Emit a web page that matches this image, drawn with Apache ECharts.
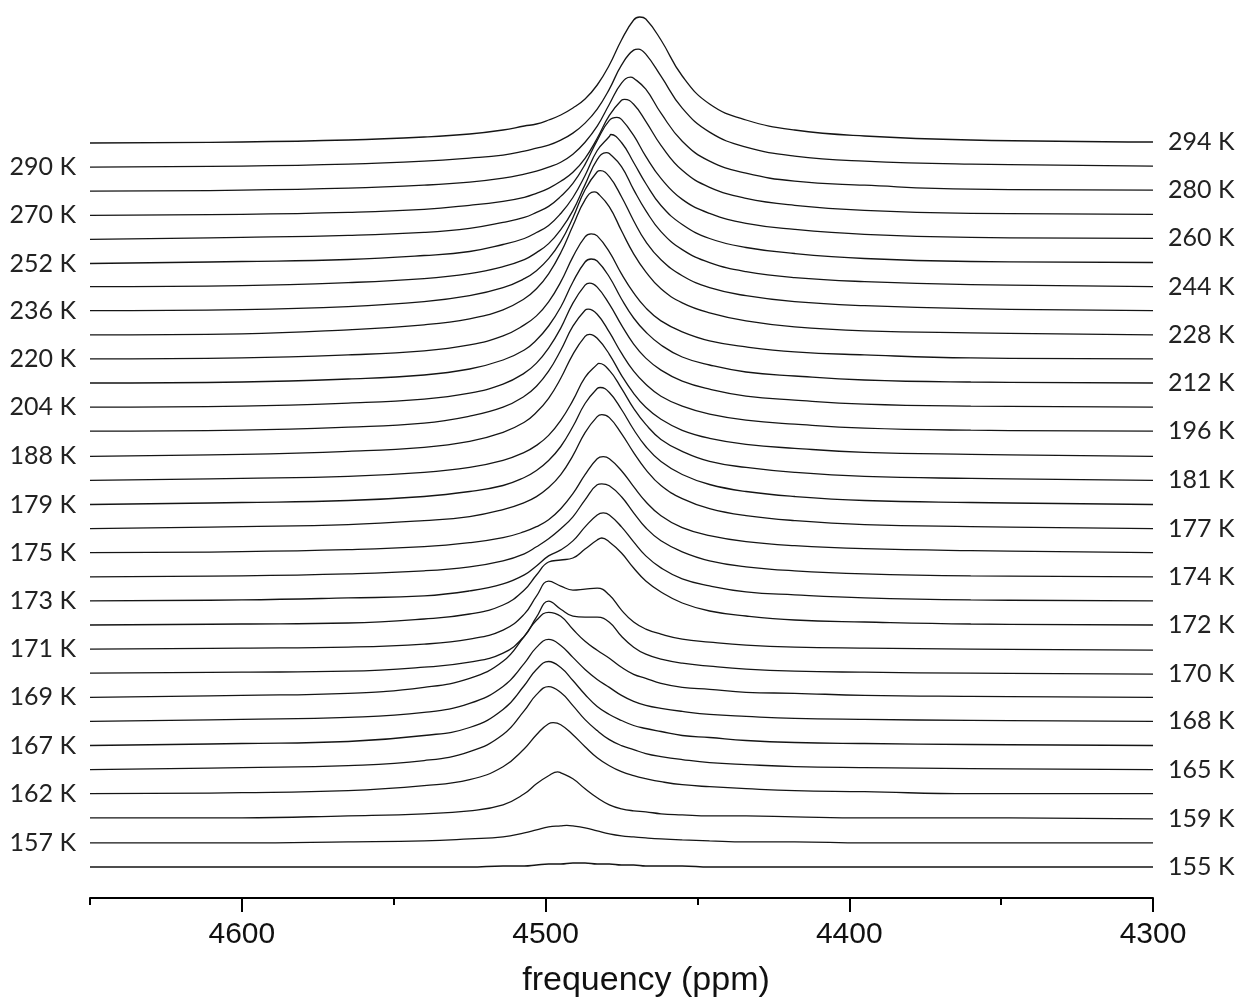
<!DOCTYPE html>
<html>
<head>
<meta charset="utf-8">
<script src="https://cdn.jsdelivr.net/npm/echarts@6/dist/echarts.min.js"></script>
<style>
  html, body { margin: 0; padding: 0; background: #ffffff; }
  #chart { width: 1240px; height: 1003px; }
</style>
</head>
<body>
<div id="chart"></div>
<script>
// Sampling frequencies (ppm) shared by every spectrum
const PPM = [4650, 4600, 4565, 4540, 4525, 4514, 4507, 4503, 4499, 4495, 4491, 4487, 4483,
             4479, 4475, 4471, 4467, 4462, 4455, 4446, 4434, 4418, 4395, 4360, 4300];

// Temperatures, bottom trace first
const TEMPS = [155, 157, 159, 162, 165, 167, 168, 169, 170, 171, 172, 173, 174, 175, 177,
               179, 181, 188, 196, 204, 212, 220, 228, 236, 244, 252, 260, 270, 280, 290, 294];

// Signal intensity (a.u.) at each PPM point
const S155 = [0,0,0,0,0,1,1,2,3,3,4,4,3,3,2,2,1,1,1,0,0,0,0,0,0];
const S157 = [0,0,1,2,4,6,10,13,16,17,17,15,12,9,7,6,5,4,3,2,1,1,0,0,0];
const S159 = [1,1,3,5,8,14,25,35,43,46,40,30,21,14,10,8,7,5,4,3,3,2,1,1,0];
const S162 = [1,2,4,9,15,28,46,60,71,70,60,48,37,29,23,19,16,13,10,8,6,4,3,1,1];
const S165 = [1,3,5,10,19,36,60,76,84,78,65,51,40,31,25,21,17,14,11,8,6,4,3,2,1];
const S167 = [1,3,5,11,19,37,61,77,85,79,66,52,40,32,26,21,18,15,11,9,6,4,3,2,1];
const S168 = [1,3,5,10,19,36,59,75,83,77,65,53,43,35,27,21,17,14,11,8,6,4,3,2,1];
const S169 = [1,3,5,11,20,37,62,78,86,82,69,57,48,40,31,24,20,15,11,9,6,5,3,2,1];
const S170 = [1,2,3,7,12,21,38,57,73,65,58,57,57,52,38,27,20,15,11,8,5,3,2,1,0];
const S171 = [1,2,3,6,11,20,36,54,69,64,60,61,62,55,40,28,21,16,11,8,5,3,2,1,0];
const S172 = [1,2,3,7,12,21,36,51,64,66,68,77,86,84,73,58,45,34,23,15,10,6,4,2,1];
const S173 = [1,2,4,6,11,18,27,36,46,52,61,75,87,87,75,60,46,34,23,16,10,7,4,2,1];
const S174 = [1,2,4,7,11,17,24,31,39,49,61,78,93,92,81,65,50,37,26,17,11,7,4,2,1];
const S175 = [1,2,4,7,11,16,22,27,34,45,60,79,95,95,83,67,52,38,26,18,12,8,5,3,1];
const S177 = [1,3,5,9,13,20,27,33,42,55,74,97,113,112,96,77,60,44,31,21,14,9,5,3,1];
const S179 = [1,3,5,9,14,20,28,35,45,59,79,102,117,113,96,76,59,44,31,21,14,9,5,3,1];
const S181 = [1,3,5,9,14,21,29,36,46,61,81,104,117,111,93,73,57,42,30,20,14,9,5,3,1];
const S188 = [1,3,6,10,16,25,35,45,59,79,103,121,119,103,82,64,50,38,27,19,13,9,5,3,1];
const S196 = [2,3,6,10,17,26,37,47,62,83,107,123,119,101,80,62,49,37,27,19,13,9,5,3,2];
const S204 = [2,3,6,10,16,25,36,46,61,81,106,124,122,105,84,65,51,39,28,20,13,9,5,3,2];
const S212 = [2,3,6,10,16,25,35,45,59,78,103,123,124,108,86,67,53,40,28,20,13,9,5,3,2];
const S220 = [2,3,6,10,16,25,36,45,59,79,104,124,125,109,87,68,53,40,29,20,14,9,6,3,2];
const S228 = [2,3,7,12,18,27,38,48,63,84,111,137,144,130,106,83,65,48,34,24,16,10,6,4,2];
const S236 = [2,3,6,11,17,25,34,42,54,71,95,123,141,136,116,92,71,53,37,25,17,11,7,4,2];
const S244 = [2,3,6,10,15,22,29,36,45,59,78,104,129,135,122,99,78,57,39,26,17,11,7,4,2];
const S252 = [1,3,5,9,13,20,26,32,39,51,67,89,114,128,122,102,81,59,40,26,17,11,6,3,2];
const S260 = [1,3,5,8,12,18,23,28,34,44,57,76,100,120,121,105,84,62,41,27,17,11,6,3,2];
const S270 = [1,2,4,7,11,15,19,23,28,35,44,58,78,101,116,112,95,71,46,29,18,11,6,3,2];
const S280 = [1,2,4,7,10,14,18,21,25,30,38,50,66,88,109,114,103,79,51,31,19,11,7,3,2];
const S290 = [1,2,4,7,10,13,17,20,23,28,35,45,59,79,103,118,114,92,60,36,21,12,7,4,2];
const S294 = [1,2,4,7,10,14,18,20,24,29,36,45,59,79,104,124,125,104,68,40,24,14,8,4,2];

const SPECTRA = [S155, S157, S159, S162, S165, S167, S168, S169, S170, S171, S172, S173,
                 S174, S175, S177, S179, S181, S188, S196, S204, S212, S220, S228, S236,
                 S244, S252, S260, S270, S280, S290, S294];

// Position (ppm) and intensity of the strongest maximum of each spectrum
const PEAK_PPM = [4491, 4493, 4496, 4497.5, 4499, 4499, 4499, 4499, 4499, 4499, 4481.5, 4481,
                  4481.5, 4481, 4481.5, 4482, 4482.5, 4485.5, 4486, 4485.5, 4485, 4485, 4484,
                  4482, 4480, 4478.5, 4476.5, 4474, 4472, 4469.5, 4469];
const PEAK_INT = [4, 17.5, 47, 72, 84, 85, 83, 86, 73, 69, 88, 89,
                  94, 97, 115, 118, 118, 123, 124, 126, 126, 127, 145,
                  142, 136, 130, 123, 117, 115, 119, 127];

// Frequency axis ticks
const X_TICKS = [4300, 4400, 4500, 4600];
const X_MINOR_TICKS = [4350, 4450, 4550, 4650];

// Vertical stacking step between consecutive spectra
const OFFSET = 24.1;

const LABEL_FONT = 'Lato, "Open Sans", sans-serif';
const AXIS_FONT = '"Liberation Sans", Arial, sans-serif';

// Grid samples plus the maximum, kept in descending ppm order
function spectrumPoints(i) {
  const pts = PPM.map((p, k) => [p, SPECTRA[i][k]]);
  const pk = [PEAK_PPM[i], PEAK_INT[i]];
  const same = pts.findIndex(q => q[0] === pk[0]);
  if (same >= 0) {
    pts[same][1] = pk[1];
  } else {
    const at = pts.findIndex(q => q[0] < pk[0]);
    pts.splice(at, 0, pk);
  }
  return pts;
}

const series = SPECTRA.map((vals, i) => {
  const onLeft = i % 2 === 1;
  const pts = spectrumPoints(i);
  const last = pts.length - 1;
  const data = pts.map((pt, k) => {
    const item = { value: [pt[0], i * OFFSET + pt[1]] };
    if (onLeft && k === 0) {
      item.label = { show: true, position: 'left', distance: 14, formatter: TEMPS[i] + ' K' };
    } else if (!onLeft && k === last) {
      item.label = { show: true, position: 'right', distance: 15, formatter: TEMPS[i] + ' K' };
    }
    return item;
  });
  return {
    name: TEMPS[i] + ' K',
    type: 'line',
    data: data,
    smooth: 0.45,
    showSymbol: true,
    symbol: 'circle',
    symbolSize: 0,
    clip: false,
    silent: true,
    animation: false,
    lineStyle: { color: '#151515', width: 1.3 },
    itemStyle: { color: '#151515' },
    label: { show: false, fontFamily: LABEL_FONT, fontSize: 25, color: '#222222' },
    emphasis: { disabled: true }
  };
});

const chart = echarts.init(document.getElementById('chart'), null, { renderer: 'canvas' });
chart.setOption({
  backgroundColor: '#ffffff',
  animation: false,
  grid: { left: 90, right: 87, top: 10, bottom: 105, containLabel: false },
  xAxis: [
    {
      type: 'value', min: 4300, max: 4650, inverse: true, position: 'bottom',
      axisLine: { show: true, onZero: false, lineStyle: { color: '#000000', width: 2 } },
      axisTick: { show: true, customValues: X_TICKS, length: 14, lineStyle: { color: '#000000', width: 2 } },
      axisLabel: { show: true, customValues: X_TICKS, margin: 22, fontSize: 30,
                   fontFamily: AXIS_FONT, color: '#111111', formatter: v => String(v) },
      splitLine: { show: false }
    },
    {
      type: 'value', min: 4300, max: 4650, inverse: true, position: 'bottom',
      axisLine: { show: false, onZero: false },
      axisTick: { show: true, customValues: X_MINOR_TICKS, length: 7, lineStyle: { color: '#000000', width: 2 } },
      axisLabel: { show: false },
      splitLine: { show: false }
    }
  ],
  yAxis: { type: 'value', min: -31, max: 857, show: false },
  series: series,
  graphic: [
    {
      type: 'text', x: 646, y: 981, silent: true,
      style: { text: 'frequency (ppm)', fontSize: 34, fontFamily: AXIS_FONT, fill: '#111111',
               align: 'center', verticalAlign: 'middle' }
    }
  ]
});
</script>
</body>
</html>
